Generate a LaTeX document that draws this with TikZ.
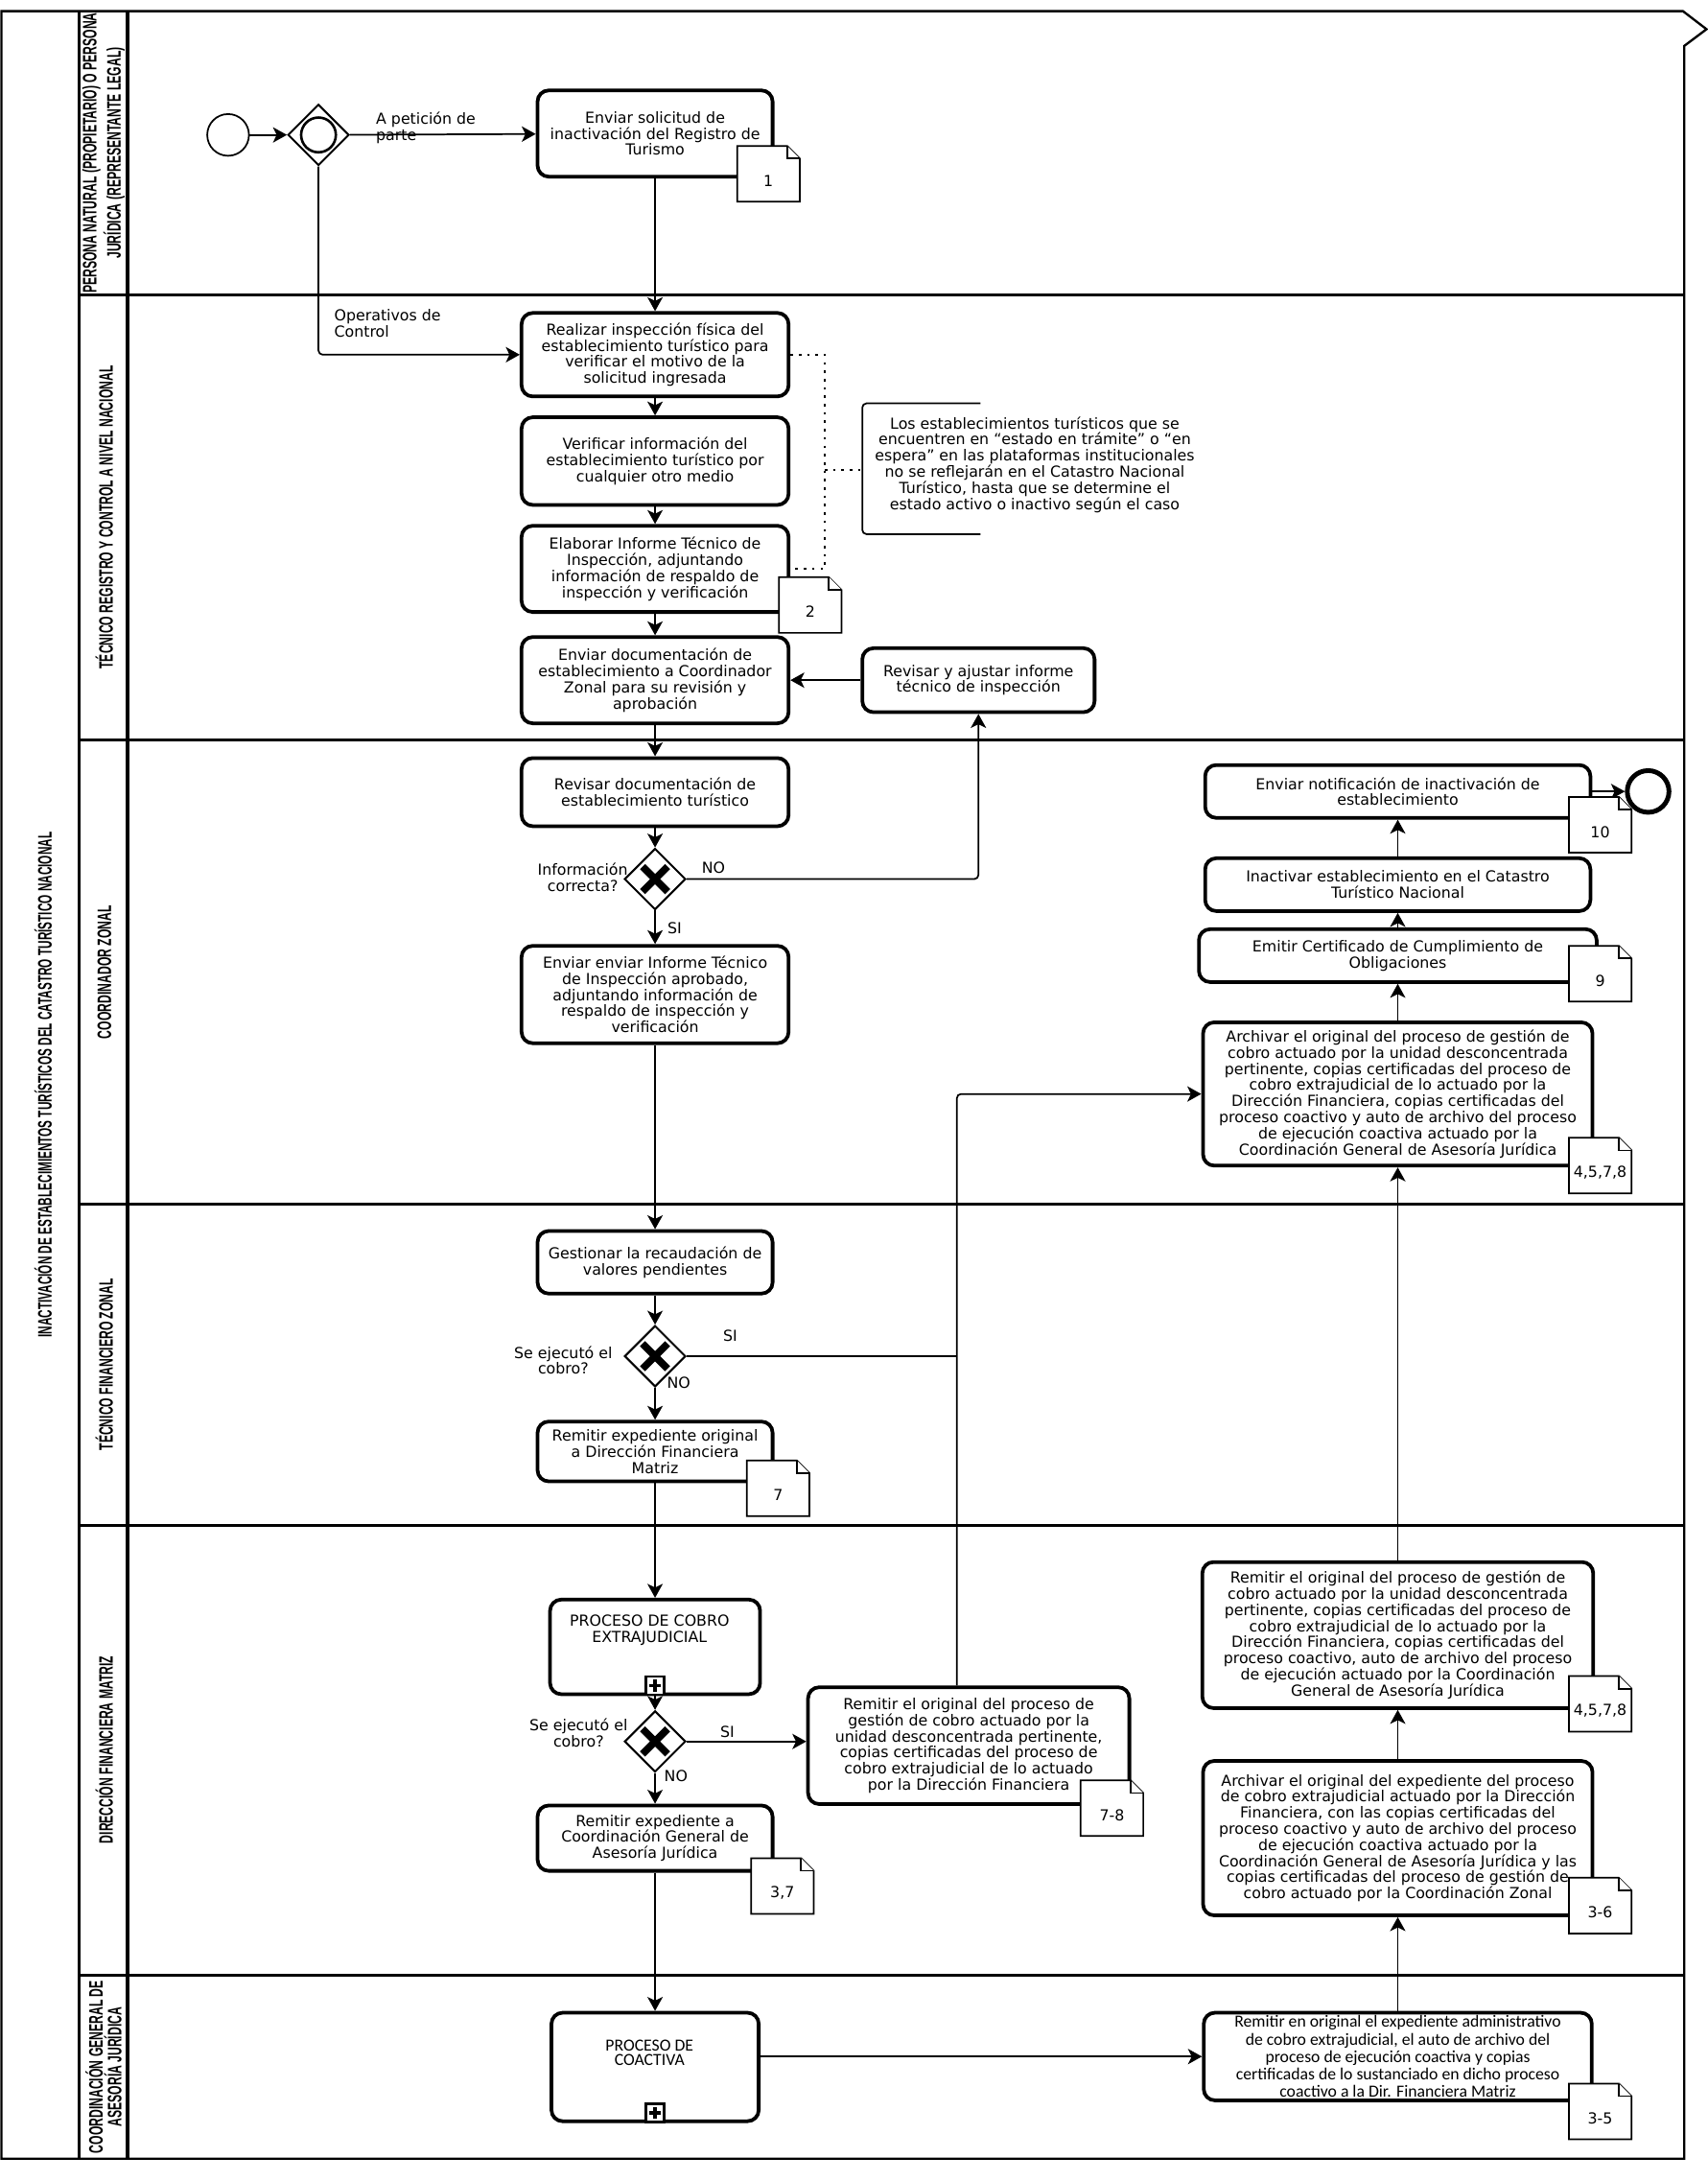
\documentclass[tikz,border=0pt]{standalone}
\usepackage{fontspec}
\setmainfont{DejaVu Sans}
\newfontfamily\condfont[FakeStretch=0.58]{Liberation Sans}
\newfontfamily\lanefont[FakeStretch=0.6]{Liberation Sans}
\newfontfamily\narrowfont{Carlito}
\usetikzlibrary{shapes.geometric,arrows.meta,calc}
\newcommand\mydoc[4]{%
  \draw[docline] (#2,#3) -- ++(36,0) -- ++(9,9) -- ++(0,31) -- ++(-45,0) -- cycle;
  \draw[docline] (#2+36,#3) -- ++(0,9) -- ++(9,0);
  \node[doclabel] (#1) at (#2+22.5,#3+25) {#4};}
\begin{document}
\begin{tikzpicture}[x=0.5pt,y=-0.5pt,
  txt/.style={font=\fontsize{5.45}{5.8}\selectfont},
  ntxt/.style={font=\narrowfont\fontsize{6.1}{5.1}\selectfont},
  task/.style={draw, rounded corners=4pt, line width=1.3pt, align=center, fill=white, inner sep=1pt, txt},
  sz/.style 2 args={minimum width=#1*0.5pt, minimum height=#2*0.5pt},
  flow/.style={line width=0.6pt, rounded corners=1.5pt, -{Stealth[length=5pt,width=5.5pt,inset=1.3pt]}},
  plain/.style={line width=0.6pt, rounded corners=1.5pt},
  assoc/.style={line width=0.9pt, dash pattern=on 0.9pt off 2.1pt},
  lane/.style={line width=1pt},
  gw/.style={diamond, draw, line width=0.7pt, fill=white, minimum width=22pt, minimum height=22pt, inner sep=0pt},
  xgw/.style={gw, path picture={
     \draw[line width=2.6pt] ([shift={(-4.5pt,-4.5pt)}]path picture bounding box.center) -- ([shift={(4.5pt,4.5pt)}]path picture bounding box.center);
     \draw[line width=2.6pt] ([shift={(-4.5pt,4.5pt)}]path picture bounding box.center) -- ([shift={(4.5pt,-4.5pt)}]path picture bounding box.center);}},
  startev/.style={circle, draw, line width=0.6pt, minimum size=15pt, inner sep=0pt},
  endev/.style={circle, draw, line width=1.7pt, minimum size=15pt, inner sep=0pt},
  docline/.style={line width=0.6pt, fill=white},
  doclabel/.style={txt, inner sep=0pt},
  lbl/.style={txt, align=center, inner sep=0pt},
  lanelabel/.style={rotate=90, font=\lanefont\bfseries\fontsize{7}{6.7}\selectfont, align=center, inner sep=0pt},
  submark/.style={draw, line width=0.8pt, fill=white, minimum size=6.5pt, inner sep=0pt, anchor=south, path picture={
     \draw[line width=1.1pt] ([shift={(-2.2pt,0pt)}]path picture bounding box.center) -- ([shift={(2.2pt,0pt)}]path picture bounding box.center);
     \draw[line width=1.1pt] ([shift={(0pt,-2.2pt)}]path picture bounding box.center) -- ([shift={(0pt,2.2pt)}]path picture bounding box.center);}},
]
\useasboundingbox (0,0) rectangle (1228,1568);

% ---------- frame and lanes ----------
\draw[line width=0.8pt] (1,8) -- (1210,8) -- (1227,21) -- (1211,33) -- (1211,1552) -- (1,1552) -- cycle;
\draw[lane] (57,8) -- (57,1552);
\draw[line width=1.4pt] (92,8) -- (92,1552);
\foreach \yy in {212,532,866,1097,1420} \draw[lane] (57,\yy) -- (1211,\yy);

\node[rotate=90, font=\condfont\bfseries\fontsize{7}{8}\selectfont, inner sep=0pt] (title) at (31,780)
  {INACTIVACIÓN DE ESTABLECIMIENTOS TURÍSTICOS DEL CATASTRO TURÍSTICO NACIONAL};
\node[lanelabel] (l1) at (74.5,110) {PERSONA NATURAL (PROPIETARIO) O PERSONA\\JURÍDICA (REPRESENTANTE LEGAL)};
\node[lanelabel] (l2) at (75,372) {TÉCNICO REGISTRO Y CONTROL A NIVEL NACIONAL};
\node[lanelabel] (l3) at (75,699) {COORDINADOR ZONAL};
\node[lanelabel] (l4) at (75,981) {TÉCNICO FINANCIERO ZONAL};
\node[lanelabel] (l5) at (75,1258) {DIRECCIÓN FINANCIERA MATRIZ};
\node[lanelabel] (l6) at (74.5,1486) {COORDINACIÓN GENERAL DE\\ASESORÍA JURÍDICA};

% ---------- lane 1 ----------
\node[startev] (start) at (164,97) {};
\node[gw] (gw1) at (229,97) {};
\node[circle, draw, line width=0.9pt, minimum size=12.5pt, inner sep=0pt] (gw1c) at (gw1) {};
\node[task, sz={169}{62}] (t1) at (471,96) {Enviar solicitud de\\inactivación del Registro de\\Turismo};

% ---------- lane 2 ----------
\node[task, sz={192}{60}] (t2a) at (471,255) {Realizar inspección física del\\establecimiento turístico para\\verificar el motivo de la\\solicitud ingresada};
\node[task, sz={192}{63}] (t2b) at (471,331.5) {Verificar información del\\establecimiento turístico por\\cualquier otro medio};
\node[task, sz={192}{62}] (t2c) at (471,409) {Elaborar Informe Técnico de\\Inspección, adjuntando\\información de respaldo de\\inspección y verificación};
\node[task, sz={192}{62}] (t2d) at (471,489) {Enviar documentación de\\establecimiento a Coordinador\\Zonal para su revisión y\\aprobación};
\node[task, sz={167}{46}] (t2e) at (703.5,489) {Revisar y ajustar informe\\técnico de inspección};
\node[lbl] (ann) at (744,334) {Los establecimientos turísticos que se\\encuentren en “estado en trámite” o “en\\espera” en las plataformas institucionales\\no se reflejarán en el Catastro Nacional\\Turístico, hasta que se determine el\\estado activo o inactivo según el caso};
\draw[plain] (705,290) -- (620,290) -- (620,384) -- (705,384);
\coordinate (annb) at (620,338);
\coordinate (jA) at (593,338);

% ---------- lane 3 ----------
\node[task, sz={192}{49}] (t3a) at (471,569.5) {Revisar documentación de\\establecimiento turístico};
\node[xgw] (gw3) at (471,632) {};
\node[task, sz={192}{70}] (t3b) at (471,715) {Enviar enviar Informe Técnico\\de Inspección aprobado,\\adjuntando información de\\respaldo de inspección y\\verificación};
\node[task, sz={277}{38}] (t3e) at (1005,569) {Enviar notificación de inactivación de\\establecimiento};
\node[endev] (endev) at (1185,569) {};
\node[task, sz={277}{38}] (t3d) at (1005,636) {Inactivar establecimiento en el Catastro\\Turístico Nacional};
\node[task, sz={286}{38}] (t3c) at (1005,687) {Emitir Certificado de Cumplimiento de\\Obligaciones};
\node[task, sz={280}{103}] (t3f) at (1005,786.5) {Archivar el original del proceso de gestión de\\cobro actuado por la unidad desconcentrada\\pertinente, copias certificadas del proceso de\\cobro extrajudicial de lo actuado por la\\Dirección Financiera, copias certificadas del\\proceso coactivo y auto de archivo del proceso\\de ejecución coactiva actuado por la\\Coordinación General de Asesoría Jurídica};
\coordinate (j1) at (688,787);

% ---------- lane 4 ----------
\node[task, sz={169}{45}] (t4a) at (471,907.5) {Gestionar la recaudación de\\valores pendientes};
\node[xgw] (gw4) at (471,975) {};
\node[task, sz={169}{43}] (t4b) at (471,1043.5) {Remitir expediente original\\a Dirección Financiera\\Matriz};

% ---------- lane 5 ----------
\node[task, sz={151}{68}, label={[lbl, anchor=north, yshift=-6pt, xshift=-2pt]north:PROCESO DE COBRO\\EXTRAJUDICIAL}] (t5a) at (471,1184) {};
\node[submark] (m5a) at (t5a.south) {};
\node[xgw] (gw5) at (471,1252) {};
\node[task, sz={231}{84}] (t5c) at (696.5,1255) {Remitir el original del proceso de\\gestión de cobro actuado por la\\unidad desconcentrada pertinente,\\copias certificadas del proceso de\\cobro extrajudicial de lo actuado\\por la Dirección Financiera};
\node[task, sz={169}{47}] (t5b) at (471,1321.5) {Remitir expediente a\\Coordinación General de\\Asesoría Jurídica};
\node[task, sz={281}{105}] (t5e) at (1005,1175.5) {Remitir el original del proceso de gestión de\\cobro actuado por la unidad desconcentrada\\pertinente, copias certificadas del proceso de\\cobro extrajudicial de lo actuado por la\\Dirección Financiera, copias certificadas del\\proceso coactivo, auto de archivo del proceso\\de ejecución actuado por la Coordinación\\General de Asesoría Jurídica};
\node[task, sz={280}{111}] (t5d) at (1005,1321.5) {Archivar el original del expediente del proceso\\de cobro extrajudicial actuado por la Dirección\\Financiera, con las copias certificadas del\\proceso coactivo y auto de archivo del proceso\\de ejecución coactiva actuado por la\\Coordinación General de Asesoría Jurídica y las\\copias certificadas del proceso de gestión de\\cobro actuado por la Coordinación Zonal};

% ---------- lane 6 ----------
\node[task, sz={149}{78}, label={[ntxt, align=center, anchor=center, yshift=5pt, xshift=-2pt]center:PROCESO DE\\COACTIVA}] (t6a) at (471,1486) {};
\node[submark] (m6a) at (t6a.south) {};
\node[task, ntxt, sz={279}{63}] (t6b) at (1005,1478.5) {Remitir en original el expediente administrativo\\de cobro extrajudicial, el auto de archivo del\\proceso de ejecución coactiva y copias\\certificadas de lo sustanciado en dicho proceso\\coactivo a la Dir. Financiera Matriz};

% ---------- connectors ----------
\draw[flow] (start) -- (gw1);
\draw[flow] (gw1) -- (t1);
\draw[flow] (gw1.south) |- (t2a.west);
\draw[flow] (t1) -- (t2a);
\draw[flow] (t2a) -- (t2b);
\draw[flow] (t2b) -- (t2c);
\draw[flow] (t2c) -- (t2d);
\draw[flow] (t2e) -- (t2d);
\draw[assoc] (t2a.east) -- (t2a.east -| jA) |- (t2c.east);
\draw[assoc] (jA) -- (annb);
\draw[flow] (t2d) -- (t3a);
\draw[flow] (t3a) -- (gw3);
\draw[flow] (gw3) -- (t3b);
\draw[flow] (gw3.east) -| (t2e.south);
\draw[flow] (t3b) -- (t4a);
\draw[flow] (t3f) -- (t3c);
\draw[flow] (t3c) -- (t3d);
\draw[flow] (t3d) -- (t3e);
\draw[flow] (t3e) -- (endev);
\draw[flow] (t5c.north -| j1) |- (t3f.west);
\draw[plain] (gw4.east) -- (gw4.east -| j1);
\draw[flow] (t4a) -- (gw4);
\draw[flow] (gw4) -- (t4b);
\draw[flow] (t4b) -- (t5a);
\draw[flow] (t5a) -- (gw5);
\draw[flow] (gw5.east) -- (gw5.east -| t5c.west);
\draw[flow] (gw5) -- (t5b);
\draw[flow] (t5b) -- (t6a);
\draw[flow] (t5e) -- (t3f);
\draw[flow] (t5d) -- (t5e);
\draw[flow] (t6b) -- (t5d);
\draw[flow] (t6a.east |- t6b.west) -- (t6b.west);

% ---------- labels ----------
\node[lbl, align=left, anchor=north west] (lb1) at (270,80) {A petición de\\parte};
\node[lbl, align=left, anchor=north west] (lb2) at (240,222) {Operativos de\\Control};
\node[lbl] (lb3) at (419,631) {Información\\correcta?};
\node[lbl] (no3) at (513,624) {NO};
\node[lbl] (si3) at (485,667) {SI};
\node[lbl] (lb4) at (405,978) {Se ejecutó el\\cobro?};
\node[lbl] (si4) at (525,960) {SI};
\node[lbl] (no4) at (488,994) {NO};
\node[lbl] (lb5) at (416,1246) {Se ejecutó el\\cobro?};
\node[lbl] (si5) at (523,1245) {SI};
\node[lbl] (no5) at (486,1277) {NO};

% ---------- document icons ----------
\mydoc{d1}{530}{105}{1}
\mydoc{d2}{560}{415}{2}
\mydoc{d10}{1128}{573}{10}
\mydoc{d9}{1128}{680}{9}
\mydoc{d4578a}{1128}{818}{4,5,7,8}
\mydoc{d7}{537}{1050}{7}
\mydoc{d78}{777}{1280}{7-8}
\mydoc{d37}{540}{1336}{3,7}
\mydoc{d4578b}{1128}{1205}{4,5,7,8}
\mydoc{d36}{1128}{1350}{3-6}
\mydoc{d35}{1128}{1498}{3-5}
\end{tikzpicture}
\end{document}
